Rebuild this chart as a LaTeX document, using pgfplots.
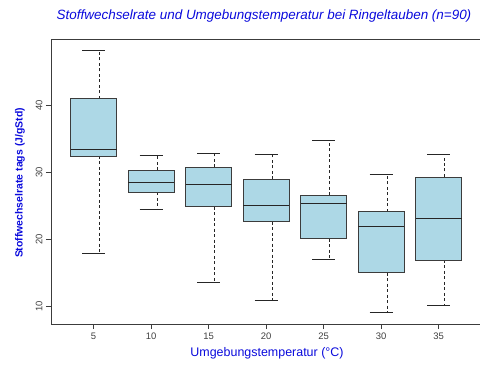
\documentclass[border=0pt]{standalone}
\usepackage{pgfplots}
\pgfplotsset{compat=1.18}
\usepgfplotslibrary{statistics}
\usepackage{fontspec}
\setmainfont{Liberation Sans}
\definecolor{boxfill}{RGB}{173,216,230}
\definecolor{labelblue}{RGB}{10,10,220}
\definecolor{edge}{RGB}{60,60,60}

\begin{document}
\begin{tikzpicture}[x=1bp,y=1bp]
\path (0,0) rectangle (481,364);
\begin{axis}[
  at={(51bp,40bp)}, anchor=south west,
  scale only axis, width=429bp, height=284.7bp,
  xmin=1.3, xmax=38.6, ymin=7.42, ymax=49.9,
  axis x line*=bottom, axis y line*=left,
  axis line style={edge, line width=0.8pt, -},
  xtick={5,10,15,20,25,30,35},
  ytick={10,20,30,40},
  tick align=outside, tick style={edge, line width=0.6pt},
  major tick length=5bp,
  tick label style={font=\fontsize{9.5}{10}\selectfont, text=black!75},
  /pgf/number format/assume math mode=true,
  yticklabel style={rotate=90, anchor=south},
  clip=false,
  boxplot/draw direction=y,
  boxplot/box extend=4,
  boxplot/whisker extend=2,
  boxplot/every box/.style={draw=edge, fill=boxfill, line width=0.7pt, solid},
  boxplot/every median/.style={draw=black!85, line width=0.8pt, solid},
  boxplot/draw/lower whisker/.code={%
    \draw[black!85, dash pattern=on 3pt off 2.5pt, line width=0.5pt]
      (boxplot cs:\pgfplotsboxplotvalue{lower quartile},0.5)
      -- (boxplot cs:\pgfplotsboxplotvalue{lower whisker},0.5);
    \draw[black!85, solid, line width=0.7pt]
      (boxplot whisker cs:\pgfplotsboxplotvalue{lower whisker},0)
      -- (boxplot whisker cs:\pgfplotsboxplotvalue{lower whisker},1);
  },
  boxplot/draw/upper whisker/.code={%
    \draw[black!85, dash pattern=on 3pt off 2.5pt, line width=0.5pt]
      (boxplot cs:\pgfplotsboxplotvalue{upper quartile},0.5)
      -- (boxplot cs:\pgfplotsboxplotvalue{upper whisker},0.5);
    \draw[black!85, solid, line width=0.7pt]
      (boxplot whisker cs:\pgfplotsboxplotvalue{upper whisker},0)
      -- (boxplot whisker cs:\pgfplotsboxplotvalue{upper whisker},1);
  },
]
% one box per ambient temperature
\addplot[boxplot prepared={draw position=5, lower whisker=17.97, lower quartile=32.49, median=33.43, upper quartile=41.04, upper whisker=48.3}, edge] coordinates {};
\addplot[boxplot prepared={draw position=10, lower whisker=24.54, lower quartile=27.07, median=28.57, upper quartile=30.40, upper whisker=32.64}, edge] coordinates {};
\addplot[boxplot prepared={draw position=15, lower whisker=13.64, lower quartile=24.93, median=28.27, upper quartile=30.8, upper whisker=32.9}, edge] coordinates {};
\addplot[boxplot prepared={draw position=20, lower whisker=10.9, lower quartile=22.69, median=25.18, upper quartile=29.0, upper whisker=32.75}, edge] coordinates {};
\addplot[boxplot prepared={draw position=25, lower whisker=17.07, lower quartile=20.15, median=25.43, upper quartile=26.67, upper whisker=34.78}, edge] coordinates {};
\addplot[boxplot prepared={draw position=30, lower whisker=9.1, lower quartile=15.07, median=21.94, upper quartile=24.18, upper whisker=29.76}, edge] coordinates {};
\addplot[boxplot prepared={draw position=35, lower whisker=10.2, lower quartile=16.97, median=23.13, upper quartile=29.36, upper whisker=32.75}, edge] coordinates {};
% top edge of the frame
\draw[edge, line width=0.8pt] (rel axis cs:0,1) -- (rel axis cs:1,1);
\end{axis}
\node[text=labelblue, font=\fontsize{13.5}{15}\selectfont\itshape] at (264,348) {Stoffwechselrate und Umgebungstemperatur bei Ringeltauben (n=90)};
\node[text=labelblue, rotate=90, font=\fontsize{10.5}{12}\selectfont\bfseries] at (20,181) {Stoffwechselrate tags (J/gStd)};
\node[text=labelblue, font=\fontsize{12.5}{14}\selectfont] at (267,11) {Umgebungstemperatur (°C)};
\end{tikzpicture}
\end{document}
